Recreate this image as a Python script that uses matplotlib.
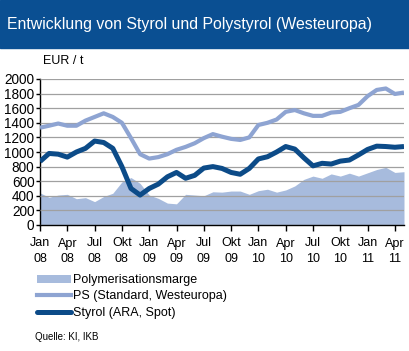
import matplotlib
matplotlib.use("Agg")
import matplotlib.pyplot as plt
from matplotlib.patches import Rectangle, Patch
from matplotlib.lines import Line2D
import numpy as np

plt.rcParams['font.family'] = ['Liberation Sans', 'DejaVu Sans']

# monthly values, Jan 2008 .. May 2011
months = np.arange(41)
styrol = [870, 980, 970, 930, 1000, 1050, 1150, 1130, 1050, 800,
          500, 410, 500, 560, 660, 720, 640, 680, 780, 800,
          775, 720, 695, 775, 905, 935, 1000, 1075, 1040, 920,
          810, 845, 835, 875, 890, 960, 1035, 1080, 1075, 1065, 1075]
ps = [1333, 1360, 1390, 1360, 1360, 1430, 1480, 1530, 1480, 1400,
      1190, 970, 910, 930, 970, 1030, 1070, 1120, 1190, 1245,
      1210, 1180, 1165, 1200, 1370, 1400, 1445, 1550, 1575, 1530,
      1495, 1495, 1540, 1550, 1600, 1645, 1765, 1850, 1870, 1795, 1815]
marge = [440, 380, 410, 420, 360, 375, 320, 390, 435, 590,
         650, 570, 410, 365, 300, 290, 420, 410, 400, 455,
         450, 465, 465, 420, 470, 490, 450, 480, 535, 625,
         670, 640, 700, 670, 710, 670, 715, 760, 790, 720, 730]
tick_pos = np.arange(0, 40, 3)
tick_labels = ['Jan\n08', 'Apr\n08', 'Jul\n08', 'Okt\n08', 'Jan\n09', 'Apr\n09', 'Jul\n09',
               'Okt\n09', 'Jan\n10', 'Apr\n10', 'Jul\n10', 'Okt\n10', 'Jan\n11', 'Apr\n11']
series_names = ['Polymerisationsmarge', 'PS (Standard, Westeuropa)', 'Styrol (ARA, Spot)']

c_fill = '#a7bbdd'
c_ps = '#8ea4d2'
c_sty = '#0c4b88'
c_title = '#0a4f92'

fig = plt.figure(figsize=(4.10, 3.51), dpi=100)
fig.patches.append(Rectangle((0, 1 - 48/351), 1, 48/351, transform=fig.transFigure,
                             color=c_title, zorder=0))
fig.text(7/410, 1 - 24/351, 'Entwicklung von Styrol und Polystyrol (Westeuropa)',
         color='white', fontsize=11.4, va='center', ha='left')
fig.text(43/410, 1 - 61/351, 'EUR / t', fontsize=9, va='center', ha='left')

ax = fig.add_axes([40/410, 1 - 225/351, 364/410, 146/351])
ax.fill_between(months, marge, 0, color=c_fill, lw=0, zorder=1)
ax.plot(months, ps, color=c_ps, lw=3.0, zorder=3, solid_capstyle='butt')
ax.plot(months, styrol, color=c_sty, lw=3.6, zorder=4, solid_capstyle='butt')

ax.set_xlim(0, 40)
ax.set_ylim(0, 2000)
ax.set_yticks(range(0, 2001, 200))
ax.yaxis.grid(True, color='#a0a0a0', lw=0.9, zorder=2)
ax.set_axisbelow(False)
for sp in ['top', 'right']:
    ax.spines[sp].set_visible(False)
for sp in ['left', 'bottom']:
    ax.spines[sp].set_linewidth(1.0)
ax.set_xticks(tick_pos)
ax.set_xticklabels(tick_labels, linespacing=1.4)
ax.tick_params(axis='x', length=4, width=1, direction='out', labelsize=9, pad=5)
ax.tick_params(axis='y', length=3, width=1, direction='out', labelsize=9.8, pad=1)

handles = [Patch(facecolor=c_fill, edgecolor='none'),
           Line2D([], [], color=c_ps, lw=3.0),
           Line2D([], [], color=c_sty, lw=3.6, solid_capstyle='round')]
fig.legend(handles, series_names, loc='upper left', bbox_to_anchor=(37/410, 1 - 274/351),
           frameon=False, fontsize=9, handlelength=2.7, handleheight=0.6,
           handletextpad=0.2, labelspacing=0.35, borderpad=0, borderaxespad=0)
fig.text(35/410, 1 - 337/351, 'Quelle: KI, IKB', fontsize=7, va='center', ha='left')

fig.savefig('out.png', dpi=100)
